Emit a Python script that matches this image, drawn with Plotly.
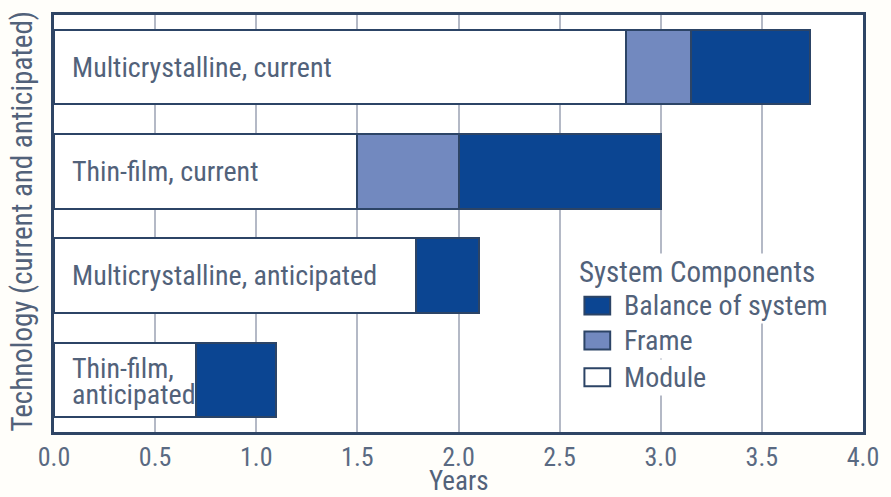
import plotly.graph_objects as go

# Payback time (years) by system component for each PV technology
technologies = [
    "Multicrystalline, current",
    "Thin-film, current",
    "Multicrystalline, anticipated",
    "Thin-film, anticipated",
]
bar_label_lines = [
    ["Multicrystalline, current"],
    ["Thin-film, current"],
    ["Multicrystalline, anticipated"],
    ["Thin-film,", "anticipated"],
]
module_years = [2.83, 1.50, 1.79, 0.70]
frame_years = [0.32, 0.50, None, None]
bos_years = [0.59, 1.00, 0.31, 0.40]

x_ticks = [0.0, 0.5, 1.0, 1.5, 2.0, 2.5, 3.0, 3.5, 4.0]
x_tick_text = ["0.0", "0.5", "1.0", "1.5", "2.0", "2.5", "3.0", "3.5", "4.0"]

FONT = "Roboto Condensed, Roboto, sans-serif"
TEXT = "#52627a"
OUTLINE = "#2c4466"
BOS_BLUE = "#0b4592"
FRAME_BLUE = "#7289bf"

# plot area in pixels (for placing the hand-built legend)
L, R, T, B = 54, 870, 13, 432


def px_to_paper(px, py):
    return (px - L) / (R - L), (B - py) / (B - T)


fig = go.Figure()
for name, vals, color in [
    ("Module", module_years, "white"),
    ("Frame", frame_years, FRAME_BLUE),
    ("Balance of system", bos_years, BOS_BLUE),
]:
    fig.add_trace(go.Bar(
        name=name, y=technologies, x=vals, orientation="h",
        marker=dict(color=color, line=dict(color=OUTLINE, width=2)),
        width=0.716, showlegend=False, hoverinfo="x+name",
    ))

annotations = []
LINE_STEP = 26
for tech, lines in zip(technologies, bar_label_lines):
    n = len(lines)
    for i, line in enumerate(lines):
        annotations.append(dict(
            x=0.08, y=tech, xref="x", yref="y", text=line, showarrow=False,
            xanchor="left", yanchor="middle", align="left",
            yshift=((n - 1) / 2 - i) * LINE_STEP - (2 if n > 1 else 0),
            font=dict(family=FONT, size=28, color=TEXT),
        ))

# legend drawn as swatches + labels with white backing
lx, ly = px_to_paper(582, 271)
annotations.append(dict(
    x=lx, y=ly, xref="paper", yref="paper", text="System Components",
    showarrow=False, xanchor="left", yanchor="middle", bgcolor="white",
    font=dict(family=FONT, size=29, color=TEXT),
))
shapes = []
legend_items = [("Balance of system", BOS_BLUE, 305),
                ("Frame", FRAME_BLUE, 340),
                ("Module", "white", 377)]
for name, color, cy in legend_items:
    x0, y0 = px_to_paper(589, cy + 9)
    x1, y1 = px_to_paper(615, cy - 9)
    shapes.append(dict(type="rect", xref="paper", yref="paper",
                       x0=x0, y0=y0, x1=x1, y1=y1, fillcolor=color,
                       line=dict(color=OUTLINE, width=2), layer="above"))
    tx, ty = px_to_paper(627, cy)
    annotations.append(dict(
        x=tx, y=ty, xref="paper", yref="paper", text=name, showarrow=False,
        xanchor="left", yanchor="middle", bgcolor="white",
        font=dict(family=FONT, size=28, color=TEXT),
    ))

# axis titles
annotations.append(dict(
    x=-0.039, y=0.506, xref="paper", yref="paper",
    text="Technology (current and anticipated)", textangle=-90,
    showarrow=False, xanchor="center", yanchor="middle",
    font=dict(family=FONT, size=29, color=TEXT),
))
annotations.append(dict(
    x=2.0, y=(B - 481) / (B - T), xref="x", yref="paper", text="Years",
    showarrow=False, xanchor="center", yanchor="middle",
    font=dict(family=FONT, size=27, color=TEXT),
))

fig.update_layout(
    barmode="stack",
    bargap=0.284,
    width=891, height=497,
    margin=dict(l=L, r=891 - R, t=T, b=497 - B),
    paper_bgcolor="#fffefa",
    plot_bgcolor="white",
    annotations=annotations,
    shapes=shapes,
    xaxis=dict(
        range=[0, 4], tickvals=x_ticks, ticktext=x_tick_text,
        showgrid=True, gridcolor="#b4b9c6", gridwidth=2,
        showline=True, linecolor="#2f4565", linewidth=3, mirror=True,
        ticks="", zeroline=False,
        tickfont=dict(family=FONT, size=26, color="#5a6a82"),
    ),
    yaxis=dict(
        categoryorder="array", categoryarray=technologies,
        autorange="reversed", showticklabels=False, ticks="",
        showgrid=False, zeroline=False,
        showline=True, linecolor="#2f4565", linewidth=3, mirror=True,
    ),
)

fig.write_html("out.html")
